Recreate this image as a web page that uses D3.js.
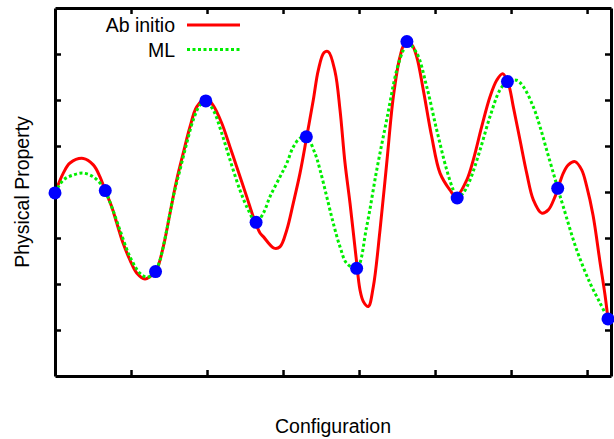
<!DOCTYPE html>
<html>
<head>
<meta charset="utf-8">
<script src="https://cdn.jsdelivr.net/npm/d3@7"></script>
<style>
  html, body { margin: 0; padding: 0; background: #fff; }
  svg { display: block; font-family: "Liberation Sans", Arial, sans-serif; }
</style>
</head>
<body>
<svg id="chart" width="614" height="439"></svg>
<script>
// configuration index (x) and property value (y)
const abInitioX = [0, 0.165, 0.298, 0.563, 0.762, 0.895, 0.995, 1.128, 1.227, 1.353, 1.492, 1.625, 1.79, 1.89, 2.01,
  2.154, 2.288, 2.42, 2.552, 2.686, 2.819, 3.004, 3.143, 3.316, 3.481, 3.614, 3.813, 3.945, 4.078, 4.144, 4.357,
  4.476, 4.609, 4.74, 4.874, 5.007, 5.138, 5.238, 5.351, 5.437, 5.57, 5.67, 5.769, 5.868, 5.988, 6.067, 6.133,
  6.232, 6.332, 6.465, 6.598, 6.73, 6.863, 6.963, 7.096, 7.195, 7.326, 7.494, 7.659, 7.858, 7.977, 8.19, 8.321,
  8.488, 8.653, 8.787, 8.906, 9.017, 9.117, 9.25, 9.383, 9.515, 9.682, 9.813, 9.947, 10.111, 10.211, 10.344,
  10.477, 10.577, 10.702, 10.841, 10.941, 11];
const abInitioY = [3.98, 4.41, 4.63, 4.73, 4.59, 4.33, 4.04, 3.68, 3.33, 2.89, 2.52, 2.24, 2.11, 2.16, 2.28,
  2.81, 3.54, 4.26, 4.85, 5.42, 5.85, 6.04, 5.89, 5.5, 4.98, 4.55, 3.9, 3.46, 3.11, 3.03, 2.78,
  2.81, 3.17, 3.76, 4.41, 5.2, 6.0, 6.65, 7.03, 7.05, 6.62, 5.78, 4.63, 3.76, 2.59, 1.87, 1.62,
  1.51, 1.94, 3.17, 4.62, 6.07, 6.94, 7.23, 7.2, 6.94, 6.22, 5.2, 4.41, 4.04, 3.9, 4.26, 4.7,
  5.42, 6.07, 6.43, 6.57, 6.36, 5.85, 5.13, 4.41, 3.83, 3.54, 3.61, 3.9, 4.41, 4.59, 4.66,
  4.48, 4.12, 3.5, 2.48, 1.76, 1.24];

const mlX = [0, 0.165, 0.364, 0.563, 0.762, 0.929, 0.995, 1.128, 1.293, 1.492, 1.691, 1.824, 1.955, 2,
  2.089, 2.222, 2.353, 2.486, 2.62, 2.751, 2.884, 3, 3.149, 3.316, 3.481, 3.68, 3.845, 4,
  4.144, 4.277, 4.476, 4.609, 4.74, 4.874, 5, 5.172, 5.272, 5.405, 5.536, 5.669, 5.803, 6,
  6.2, 6.4, 6.598, 6.797, 6.929, 7, 7.195, 7.394, 7.593, 7.792, 7.923, 8,
  8.122, 8.255, 8.454, 8.653, 8.852, 9, 9.185, 9.316, 9.515, 9.648, 9.781, 9.913, 10,
  10.111, 10.378, 10.643, 10.841, 11];
const mlY = [3.98, 4.26, 4.37, 4.41, 4.33, 4.15, 4.04, 3.68, 3.17, 2.59, 2.23, 2.15, 2.2, 2.27,
  2.52, 3.17, 3.9, 4.48, 5.06, 5.57, 5.89, 5.98, 5.78, 5.28, 4.7, 4.04, 3.61, 3.34,
  3.54, 3.9, 4.33, 4.62, 4.98, 5.17, 5.2, 4.84, 4.48, 3.9, 3.32, 2.81, 2.45, 2.34,
  3.25, 4.48, 5.57, 6.65, 7.09, 7.25, 7.02, 6.29, 5.35, 4.48, 4.04, 3.87,
  3.98, 4.26, 4.91, 5.64, 6.22, 6.4, 6.43, 6.29, 5.85, 5.42, 4.91, 4.41, 4.08,
  3.68, 2.74, 2.02, 1.59, 1.24];

// training configurations (blue dots)
const trainX = [0, 1, 2, 3, 4, 5, 6, 7, 8, 9, 10, 11];
const trainY = [3.98, 4.03, 2.27, 5.98, 3.34, 5.2, 2.34, 7.27, 3.87, 6.4, 4.08, 1.24];

const xTicks = [1.512, 3.024, 4.536, 6.048, 7.56, 9.072, 10.584];
const yTicks = [1, 2, 3, 4, 5, 6, 7];

const seriesNames = ['Ab initio', 'ML'];
const seriesColors = ['#ff0000', '#00ee00'];

const svg = d3.select('#chart');
const margin = { left: 55, right: 3, top: 8, bottom: 63 };
const width = 614, height = 439;

const x = d3.scaleLinear([0, 11.06], [margin.left, width - margin.right]);
const y = d3.scaleLinear([0, 8], [height - margin.bottom, margin.top]);

const abInitio = abInitioX.map((d, i) => ({ x: d, y: abInitioY[i] }));
const ml = mlX.map((d, i) => ({ x: d, y: mlY[i] }));
const train = trainX.map((d, i) => ({ x: d, y: trainY[i] }));

/*
Curves
*/
const lineSmooth = d3.line().curve(d3.curveCatmullRom).x(d => x(d.x)).y(d => y(d.y));

svg.append('path')
  .datum(abInitio)
  .attr('fill', 'none')
  .attr('stroke', seriesColors[0])
  .attr('stroke-width', 3)
  .attr('d', lineSmooth);

svg.append('path')
  .datum(ml)
  .attr('fill', 'none')
  .attr('stroke', seriesColors[1])
  .attr('stroke-width', 3)
  .attr('stroke-dasharray', '3,2.5')
  .attr('d', lineSmooth);

/*
Frame with inward ticks, no labels
*/
const axisStyle = g => {
  g.select('.domain').attr('stroke', '#000').attr('stroke-width', 3);
  g.selectAll('.tick line').attr('stroke', '#000').attr('stroke-width', 2.5);
};
svg.append('g')
  .attr('transform', `translate(0,${y(0)})`)
  .call(d3.axisBottom(x).tickValues(xTicks).tickSizeInner(-6).tickSizeOuter(0).tickFormat(''))
  .call(axisStyle);
svg.append('g')
  .attr('transform', `translate(0,${y(8)})`)
  .call(d3.axisTop(x).tickValues(xTicks).tickSizeInner(-6).tickSizeOuter(0).tickFormat(''))
  .call(axisStyle);
svg.append('g')
  .attr('transform', `translate(${x(0)},0)`)
  .call(d3.axisLeft(y).tickValues(yTicks).tickSizeInner(-6).tickSizeOuter(0).tickFormat(''))
  .call(axisStyle);
svg.append('g')
  .attr('transform', `translate(${x(11.06)},0)`)
  .call(d3.axisRight(y).tickValues(yTicks).tickSizeInner(-6).tickSizeOuter(0).tickFormat(''))
  .call(axisStyle);

/*
Training points
*/
svg.append('g')
  .selectAll('circle')
  .data(train)
  .join('circle')
  .attr('cx', d => x(d.x))
  .attr('cy', d => y(d.y))
  .attr('r', 6.5)
  .attr('fill', '#0000ff');

/*
Legend
*/
const legend = svg.append('g');
seriesNames.forEach((name, i) => {
  const ly = 25 + i * 24.5;
  legend.append('text')
    .attr('x', 175)
    .attr('y', ly + 7)
    .attr('text-anchor', 'end')
    .attr('font-size', 19.5)
    .attr('fill', '#000')
    .text(name);
  legend.append('line')
    .attr('x1', 187).attr('x2', 240)
    .attr('y1', ly).attr('y2', ly)
    .attr('stroke', seriesColors[i])
    .attr('stroke-width', 3)
    .attr('stroke-dasharray', i === 1 ? '3,2.5' : null);
});

/*
Axis titles
*/
svg.append('text')
  .attr('x', (x(0) + x(11.06)) / 2)
  .attr('y', 433)
  .attr('text-anchor', 'middle')
  .attr('font-size', 19.5)
  .text('Configuration');

svg.append('text')
  .attr('transform', `translate(29,${(y(0) + y(8)) / 2}) rotate(-90)`)
  .attr('text-anchor', 'middle')
  .attr('font-size', 19.5)
  .text('Physical Property');
</script>
</body>
</html>
